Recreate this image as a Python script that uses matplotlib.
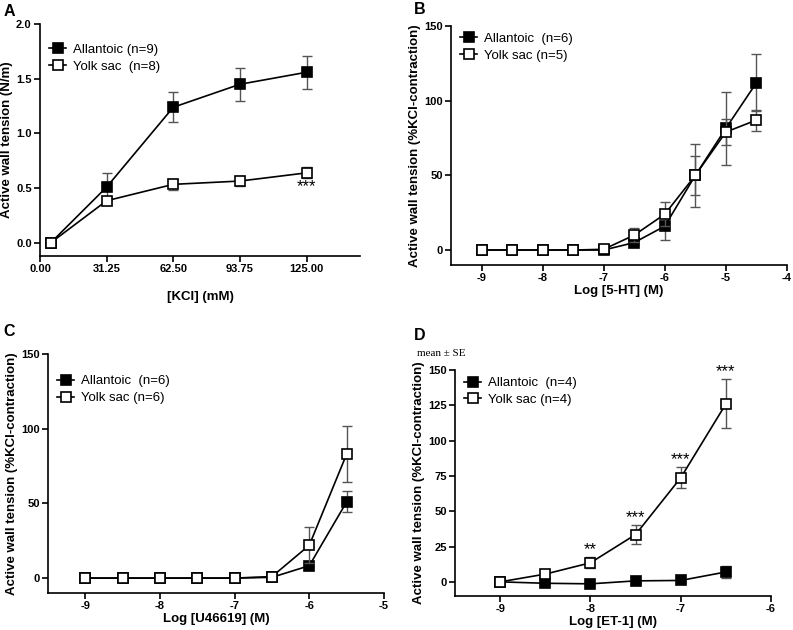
import matplotlib.pyplot as plt

plt.rcParams["font.family"] = ["Liberation Sans", "DejaVu Sans"]
plt.rcParams["axes.unicode_minus"] = False

# Panel A - KCl
kcl_x = [5, 31.25, 62.5, 93.75, 125]
kcl_allantoic = [0, 0.51, 1.24, 1.45, 1.56]
kcl_allantoic_se = [0, 0.13, 0.135, 0.15, 0.15]
kcl_yolk = [0, 0.385, 0.535, 0.565, 0.64]
kcl_yolk_se = [0, 0.03, 0.05, 0.045, 0.05]

# Panel B - 5-HT
ht_x = [-9, -8.5, -8, -7.5, -7, -6.5, -6, -5.5, -5, -4.5]
ht_allantoic = [0, 0, 0, 0, 0, 5, 16, 50, 81.5, 112]
ht_allantoic_se = [0, 0, 0, 0, 0, 1, 9, 21, 24.5, 19]
ht_yolk = [0, 0, 0, 0, 0.5, 10, 24, 50, 79, 87]
ht_yolk_se = [0, 0, 0, 0, 0.5, 4.5, 8, 13, 9, 7]

# Panel C - U46619
u_x = [-9, -8.5, -8, -7.5, -7, -6.5, -6, -5.5]
u_allantoic = [0, 0, 0, 0, 0, 0.5, 8.3, 51]
u_allantoic_se = [0, 0, 0, 0, 0, 0.5, 1, 7]
u_yolk = [0, 0, 0, 0, 0, 1, 22, 83]
u_yolk_se = [0, 0, 0, 0, 0, 0.5, 12, 18.5]

# Panel D - ET-1
et_x = [-9, -8.5, -8, -7.5, -7, -6.5]
et_allantoic = [0, -1, -1.4, 0.7, 1, 7]
et_allantoic_se = [0, 0.5, 0.5, 0.8, 0.8, 4]
et_yolk = [0, 5.5, 13.5, 33.5, 73.7, 126]
et_yolk_se = [0, 1, 4, 6.5, 7.5, 17.3]
et_stars = ["", "", "**", "***", "***", "***"]

fig = plt.figure(figsize=(7.93, 6.3), dpi=100)


def panel(rect, x, a, a_se, y, y_se, labels):
    ax = fig.add_axes(rect)
    for vals, se, fc, lab, z in [(a, a_se, "black", labels[0], 3),
                                 (y, y_se, "white", labels[1], 4)]:
        ax.errorbar(x, vals, yerr=se, fmt="none", ecolor="#555555", elinewidth=1,
                    capsize=3.5, capthick=1, zorder=z)
        ax.plot(x, vals, color="black", lw=1.2, marker="s", ms=7, mfc=fc,
                mec="black", mew=1.2, label=lab, zorder=z)
    for s in ["top", "right"]:
        ax.spines[s].set_visible(False)
    for s in ["left", "bottom"]:
        ax.spines[s].set_linewidth(1.2)
    ax.tick_params(direction="out", length=4.5, width=1.2, labelsize=8, pad=1.5)
    ax.legend(loc="upper left", frameon=False, fontsize=9.5, handlelength=1.3,
              handletextpad=0.5, borderaxespad=0.3, labelspacing=0.35)
    return ax


def bold_ticks(ax):
    for t in ax.get_xticklabels() + ax.get_yticklabels():
        t.set_fontweight("bold")


ylab = "Active wall tension (%KCl-contraction)"

ax = panel([0.0504, 0.5937, 0.4035, 0.368], kcl_x, kcl_allantoic, kcl_allantoic_se,
           kcl_yolk, kcl_yolk_se, ["Allantoic (n=9)", "Yolk sac  (n=8)"])
ax.set_xlim(0, 150)
ax.set_ylim(-0.12, 2.0)
ax.set_xticks([0, 31.25, 62.5, 93.75, 125])
ax.set_xticklabels(["0.00", "31.25", "62.50", "93.75", "125.00"])
ax.set_yticks([0, 0.5, 1.0, 1.5, 2.0])
ax.set_yticklabels(["0.0", "0.5", "1.0", "1.5", "2.0"])
bold_ticks(ax)
ax.set_xlabel("[KCl] (mM)", fontweight="bold", fontsize=9.5, labelpad=12)
ax.set_ylabel("Active wall tension (N/m)", fontweight="bold", fontsize=9.5, labelpad=2)
ax.legend_.set_bbox_to_anchor((0, 0.955))
ax.text(125, 0.58, "***", ha="center", va="top", fontsize=12)

ax = panel([0.5687, 0.5794, 0.4237, 0.3794], ht_x, ht_allantoic, ht_allantoic_se,
           ht_yolk, ht_yolk_se, ["Allantoic  (n=6)", "Yolk sac (n=5)"])
ax.set_xlim(-9.5, -4)
ax.set_ylim(-10, 150)
ax.set_xticks([-9, -8, -7, -6, -5, -4])
ax.set_yticks([0, 50, 100, 150])
bold_ticks(ax)
ax.set_xlabel("Log [5-HT] (M)", fontweight="bold", fontsize=9.5, labelpad=1)
ax.set_ylabel(ylab, fontweight="bold", fontsize=9.5, labelpad=2)
ax.legend_.set_bbox_to_anchor((0, 1.01))

ax = panel([0.0605, 0.0587, 0.4237, 0.3794], u_x, u_allantoic, u_allantoic_se,
           u_yolk, u_yolk_se, ["Allantoic  (n=6)", "Yolk sac (n=6)"])
ax.set_xlim(-9.5, -5)
ax.set_ylim(-10, 150)
ax.set_xticks([-9, -8, -7, -6, -5])
ax.set_yticks([0, 50, 100, 150])
bold_ticks(ax)
ax.set_xlabel("Log [U46619] (M)", fontweight="bold", fontsize=9.5, labelpad=1)
ax.set_ylabel(ylab, fontweight="bold", fontsize=9.5, labelpad=2)
ax.legend_.set_bbox_to_anchor((0, 0.95))

ax = panel([0.5738, 0.054, 0.3985, 0.3587], et_x, et_allantoic, et_allantoic_se,
           et_yolk, et_yolk_se, ["Allantoic  (n=4)", "Yolk sac (n=4)"])
ax.set_xlim(-9.5, -6)
ax.set_ylim(-10, 150)
ax.set_xticks([-9, -8, -7, -6])
ax.set_yticks([0, 25, 50, 75, 100, 125, 150])
bold_ticks(ax)
ax.set_xlabel("Log [ET-1] (M)", fontweight="bold", fontsize=9.5, labelpad=1)
ax.set_ylabel(ylab, fontweight="bold", fontsize=9.5, labelpad=2)
ax.legend_.set_bbox_to_anchor((0, 1.01))
for xv, yv, se, s in zip(et_x, et_yolk, et_yolk_se, et_stars):
    if s:
        ax.text(xv, yv + se, s, ha="center", va="bottom", fontsize=12)
fig.text(417 / 793, 1 - 354 / 630, "mean \u00b1 SE", family="Liberation Serif",
         fontsize=8, ha="left", va="center")

for lbl, px, py in [("A", 9, 12), ("B", 420, 10), ("C", 9, 331), ("D", 420, 335)]:
    fig.text(px / 793, 1 - py / 630, lbl, fontsize=11.5, fontweight="bold",
             ha="center", va="center")

fig.savefig("out.png", dpi=100)
